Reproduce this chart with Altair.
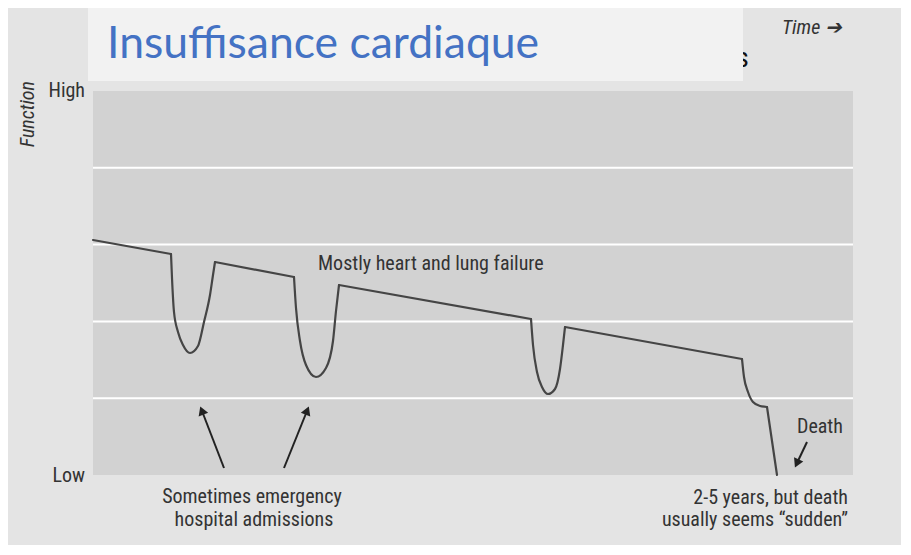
import altair as alt
import pandas as pd

# Trajectory of function over time (x: time units, y: function units, 0=Low, 384=High)
# seg: piece id; kind: "line" = straight decline, "curve" = smooth dip / terminal fall
curve_x = [0, 78,
           78, 79, 81, 85, 90, 97, 105, 111, 117, 120, 122,
           122, 201,
           201, 203, 207, 213, 223, 233, 240, 243, 246,
           246, 438,
           438, 440, 444, 449, 455, 462, 467, 470, 472,
           472, 649,
           649, 651, 655, 660, 667, 674,
           674, 684]
curve_y = [235, 221,
           221, 197, 163, 143, 130, 122, 129, 153, 180, 200, 213,
           213, 198,
           198, 167, 134, 110, 98, 107, 134, 164, 190,
           190, 156,
           156, 130, 103, 88, 81, 86, 106, 130, 148,
           148, 116,
           116, 98, 83, 73, 69, 68,
           68, 0]
curve_seg = [0, 0,
             1, 1, 1, 1, 1, 1, 1, 1, 1, 1, 1,
             2, 2,
             3, 3, 3, 3, 3, 3, 3, 3, 3,
             4, 4,
             5, 5, 5, 5, 5, 5, 5, 5, 5,
             6, 6,
             7, 7, 7, 7, 7, 7,
             8, 8]
seg_kind = ["line", "curve", "line", "curve", "line", "curve", "line", "curve", "line"]

grid_levels = [76.8, 153.6, 230.4, 307.2]

# Arrows: base -> tip
arrow_x0 = [131, 191, 714]
arrow_y0 = [7, 7, 33]
arrow_x1 = [109, 214, 704]
arrow_y1 = [64, 64, 12]
arrow_angle = [339, 22, 205]

# Annotations
note_text = ["Mostly heart and lung failure", "Death",
             "Sometimes emergency", "hospital admissions",
             "2-5 years, but death", "usually seems \u201csudden\u201d",
             "Time \u2794", "High", "Low"]
note_x = [225, 704, 159, 161, 755, 755, 689, -8, -8]
note_y = [211, 48, -22, -45, -23, -45, 447, 384, -1]
note_align = ["left", "left", "center", "center", "right", "right", "left", "right", "right"]
note_italic = ["normal", "normal", "normal", "normal", "normal", "normal", "italic", "normal", "normal"]

XMAX, YMAX = 760, 384

curve = pd.DataFrame({"t": curve_x, "f": curve_y, "seg": curve_seg,
                      "order": range(len(curve_x))})
curve["kind"] = [seg_kind[s] for s in curve_seg]
grid = pd.DataFrame({"g": grid_levels})
arrows = pd.DataFrame({"x0": arrow_x0, "y0": arrow_y0, "x1": arrow_x1,
                       "y1": arrow_y1, "ang": arrow_angle})
notes = pd.DataFrame({"txt": note_text, "x": note_x, "y": note_y,
                      "al": note_align, "st": note_italic})

xs = alt.Scale(domain=[0, XMAX], nice=False, zero=False)
ys = alt.Scale(domain=[0, YMAX], nice=False, zero=False)

FONT = "Liberation Sans Narrow, Roboto Condensed, Roboto"
FS = 20
TXT = "#333333"

grid_layer = alt.Chart(grid).mark_rule(color="white", strokeWidth=2).encode(
    y=alt.Y("g:Q", scale=ys, axis=None), x=alt.value(0), x2=alt.value(XMAX)
)

line_layers = []
for kind, interp in [("line", "linear"), ("curve", "monotone")]:
    line_layers.append(
        alt.Chart(curve[curve.kind == kind]).mark_line(
            color="#454545", strokeWidth=2.2, interpolate=interp,
            strokeCap="round", strokeJoin="round"
        ).encode(
            x=alt.X("t:Q", scale=xs, axis=None),
            y=alt.Y("f:Q", scale=ys, axis=None),
            detail="seg:N",
            order="order:Q",
        )
    )

arrow_lines = alt.Chart(arrows).mark_rule(color="#222222", strokeWidth=2).encode(
    x=alt.X("x0:Q", scale=xs, axis=None), y=alt.Y("y0:Q", scale=ys, axis=None),
    x2="x1:Q", y2="y1:Q",
)

arrow_heads = alt.Chart(arrows).mark_point(
    shape="triangle-up", filled=True, fill="#222222", stroke="#222222",
    opacity=1, size=45
).encode(
    x=alt.X("x1:Q", scale=xs, axis=None), y=alt.Y("y1:Q", scale=ys, axis=None),
    angle=alt.Angle("ang:Q", scale=None),
)

note_layers = []
for al in ["left", "center", "right"]:
    for st in ["normal", "italic"]:
        sub = notes[(notes.al == al) & (notes.st == st)]
        if len(sub) == 0:
            continue
        note_layers.append(
            alt.Chart(sub).mark_text(align=al, baseline="middle", font=FONT,
                                     fontSize=FS, fontStyle=st, color=TXT).encode(
                x=alt.X("x:Q", scale=xs, axis=None),
                y=alt.Y("y:Q", scale=ys, axis=None),
                text="txt:N",
            )
        )

func_label = alt.Chart(pd.DataFrame({"t": ["Function"]})).mark_text(
    angle=270, align="right", baseline="middle", font=FONT, fontSize=FS,
    fontStyle="italic", color=TXT
).encode(x=alt.value(-65), y=alt.value(-10), text="t:N")

hidden_s = alt.Chart(pd.DataFrame({"t": ["s"]})).mark_text(
    align="left", baseline="alphabetic", font=FONT, fontSize=28, color="#111111"
).encode(x=alt.value(643), y=alt.value(-24), text="t:N")

title_box = alt.Chart(pd.DataFrame({"a": [1]})).mark_rect(color="#f2f2f2").encode(
    x=alt.value(-5), x2=alt.value(650), y=alt.value(-88), y2=alt.value(-10)
)

title_text = alt.Chart(pd.DataFrame({"t": ["Insuffisance cardiaque"]})).mark_text(
    align="left", baseline="alphabetic", font="Lato", fontSize=44.5, color="#4472c4"
).encode(x=alt.value(14), y=alt.value(-33), text="t:N")

chart = alt.layer(
    grid_layer, *line_layers, arrow_lines, arrow_heads,
    *note_layers, func_label, hidden_s, title_box, title_text
).properties(
    width=XMAX, height=YMAX,
    autosize=alt.AutoSizeParams(type="none"),
    padding={"left": 85, "top": 83, "right": 48, "bottom": 70},
    background="#e4e4e4",
).configure_view(fill="#d2d2d2", stroke=None)

chart.save("out.html", embed_options={"renderer": "svg", "actions": False})
